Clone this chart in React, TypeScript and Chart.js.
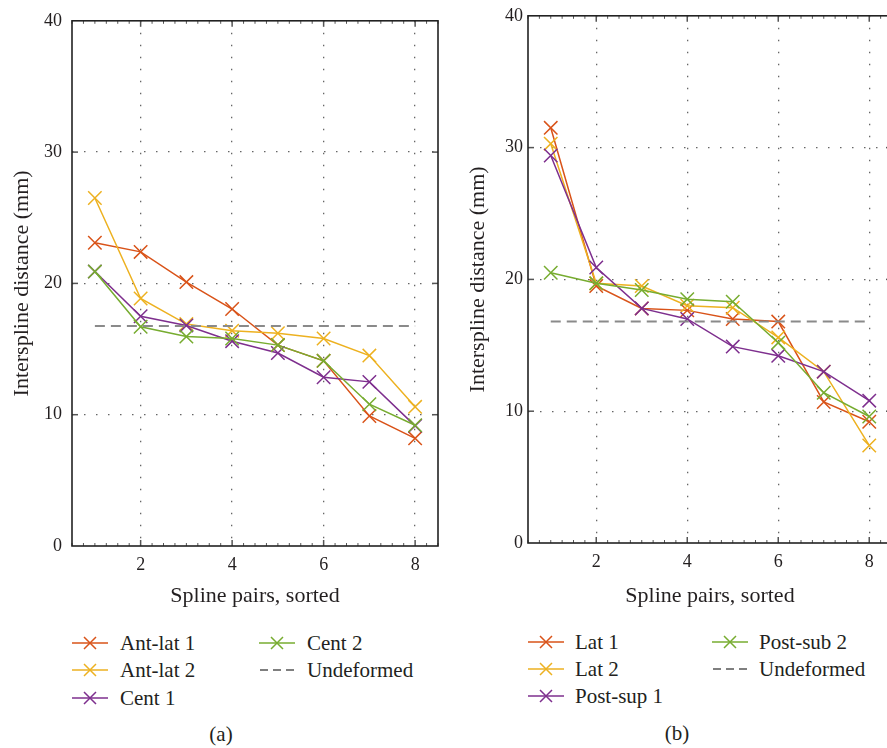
import React, { useEffect, useRef } from "react";
import { Chart, registerables } from "chart.js";

Chart.register(...registerables);

// ---------- data ----------
const PAIRS = [1, 2, 3, 4, 5, 6, 7, 8];
const X_TICKS = [2, 4, 6, 8];
const Y_TICKS = [0, 10, 20, 30, 40];

// panel (a)
const ANT_LAT_1 = [23.1, 22.4, 20.1, 18.05, 15.3, 14.1, 9.9, 8.2];
const ANT_LAT_2 = [26.5, 18.85, 16.9, 16.4, 16.2, 15.8, 14.5, 10.6];
const CENT_1 = [20.9, 17.5, 16.8, 15.6, 14.7, 12.85, 12.5, 9.15];
const CENT_2 = [20.9, 16.7, 15.95, 15.8, 15.3, 14.1, 10.8, 9.2];
const UNDEFORMED_A = 16.75;

// panel (b)
const LAT_1 = [31.5, 19.5, 17.8, 17.65, 17.0, 16.8, 10.7, 9.2];
const LAT_2 = [30.3, 19.7, 19.5, 18.0, 17.85, 15.6, 13.0, 7.4];
const POST_SUP_1 = [29.4, 20.9, 17.8, 17.0, 14.9, 14.2, 13.0, 10.8];
const POST_SUB_2 = [20.5, 19.7, 19.2, 18.5, 18.3, 15.2, 11.4, 9.6];
const UNDEFORMED_B = 16.8;

const X_TITLE = "Spline pairs, sorted";
const Y_TITLE = "Interspline distance (mm)";

const RED = "#D95319";
const YELLOW = "#EDB120";
const PURPLE = "#7E2F8E";
const GREEN = "#77AC30";
const DASH_GRAY = "#8a8a8a";
const TEXT = "#231f20";
const FONT = "'Liberation Serif', 'Times New Roman', serif";

const LEGEND_A = [
  { label: "Ant-lat 1", color: RED },
  { label: "Ant-lat 2", color: YELLOW },
  { label: "Cent 1", color: PURPLE },
  { label: "Cent 2", color: GREEN },
  { label: "Undeformed", color: null },
];
const LEGEND_B = [
  { label: "Lat 1", color: RED },
  { label: "Lat 2", color: YELLOW },
  { label: "Post-sup 1", color: PURPLE },
  { label: "Post-sub 2", color: GREEN },
  { label: "Undeformed", color: null },
];

// ---------- chart helpers ----------
const framePlugin = {
  id: "frame",
  afterDraw(chart: any) {
    const { ctx, chartArea: a } = chart;
    const x = chart.scales.x;
    const y = chart.scales.y;
    const seg = (x1: number, y1: number, x2: number, y2: number) => {
      ctx.beginPath();
      ctx.moveTo(x1, y1);
      ctx.lineTo(x2, y2);
      ctx.stroke();
    };
    ctx.save();
    ctx.strokeStyle = "#555";
    ctx.lineWidth = 1;
    for (let v = x.min; v <= x.max + 1e-9; v += 0.25) {
      const px = x.getPixelForValue(v);
      const major = X_TICKS.some((t) => Math.abs(t - v) < 1e-6);
      const len = major ? 6 : 3;
      ctx.lineWidth = major ? 1.5 : 1;
      seg(px, a.bottom, px, a.bottom - len);
      seg(px, a.top, px, a.top + len);
    }
    ctx.lineWidth = 1.5;
    for (const v of Y_TICKS) {
      if (v === y.min || v === y.max) continue;
      const py = y.getPixelForValue(v);
      seg(a.left, py, a.left + 6, py);
      seg(a.right, py, a.right - 6, py);
    }
    ctx.strokeStyle = "#222";
    ctx.lineWidth = 1.6;
    ctx.strokeRect(a.left, a.top, a.right - a.left, a.bottom - a.top);
    ctx.restore();
  },
};

function series(values: number[], color: string, idx: number) {
  return {
    data: PAIRS.map((p, i) => ({ x: p, y: values[i] })),
    borderColor: color,
    backgroundColor: color,
    borderWidth: 1.5,
    pointStyle: "crossRot",
    pointRadius: 9.5,
    pointBorderWidth: 1.5,
    pointBorderColor: color,
    tension: 0,
    order: 10 - idx,
  };
}

function undeformed(v: number) {
  return {
    data: [
      { x: PAIRS[0], y: v },
      { x: PAIRS[PAIRS.length - 1], y: v },
    ],
    borderColor: DASH_GRAY,
    borderWidth: 2,
    borderDash: [10, 6],
    pointRadius: 0,
    order: 0,
  };
}

type Cfg = {
  top: number;
  right: number;
  yAxisW: number;
  xAxisH: number;
  yTickPad: number;
  yTitlePad: number;
};

function makeOptions(cfg: Cfg) {
  const tickFont = { family: FONT, size: 18 };
  const titleFont = { family: FONT, size: 22 };
  return {
    responsive: false,
    maintainAspectRatio: false,
    animation: false,
    layout: { padding: { left: 0, top: cfg.top, right: cfg.right, bottom: 0 } },
    plugins: { legend: { display: false }, tooltip: { enabled: false } },
    scales: {
      x: {
        type: "linear",
        min: 0.5,
        max: 8.5,
        afterBuildTicks: (s: any) => {
          s.ticks = X_TICKS.map((v) => ({ value: v }));
        },
        afterFit: (s: any) => {
          s.height = cfg.xAxisH;
        },
        grid: { color: "#666", lineWidth: 1.3, drawTicks: false },
        border: { display: false, dash: [1.5, 10.5] },
        ticks: {
          autoSkip: false,
          maxRotation: 0,
          padding: 8,
          color: TEXT,
          font: tickFont,
          callback: (v: any) => String(v),
        },
        title: {
          display: true,
          text: X_TITLE,
          color: TEXT,
          font: titleFont,
          padding: { top: 0, bottom: 11 },
        },
      },
      y: {
        type: "linear",
        min: 0,
        max: 40,
        afterBuildTicks: (s: any) => {
          s.ticks = Y_TICKS.map((v) => ({ value: v }));
        },
        afterFit: (s: any) => {
          s.width = cfg.yAxisW;
        },
        grid: {
          color: (c: any) =>
            c.tick && (c.tick.value === 0 || c.tick.value === 40) ? "rgba(0,0,0,0)" : "#666",
          lineWidth: 1.3,
          drawTicks: false,
        },
        border: { display: false, dash: [1.5, 10.5] },
        ticks: {
          autoSkip: false,
          padding: cfg.yTickPad,
          color: TEXT,
          font: tickFont,
          callback: (v: any) => String(v),
        },
        title: {
          display: true,
          text: Y_TITLE,
          color: TEXT,
          font: titleFont,
          padding: { top: cfg.yTitlePad, bottom: 0 },
        },
      },
    },
  };
}

function Panel({
  width,
  height,
  datasets,
  cfg,
}: {
  width: number;
  height: number;
  datasets: any[];
  cfg: Cfg;
}) {
  const ref = useRef<HTMLCanvasElement | null>(null);
  useEffect(() => {
    if (!ref.current) return;
    const chart = new Chart(ref.current, {
      type: "line",
      data: { datasets },
      options: makeOptions(cfg) as any,
      plugins: [framePlugin],
    } as any);
    return () => chart.destroy();
  }, []);
  return <canvas ref={ref} width={width} height={height} style={{ display: "block", width, height }} />;
}

function Marker({ color }: { color: string | null }) {
  if (!color) {
    return (
      <svg width={36} height={16} style={{ display: "block" }}>
        <line x1={1} y1={8} x2={35} y2={8} stroke="#555" strokeWidth={1.3} strokeDasharray="8 5" />
      </svg>
    );
  }
  return (
    <svg width={36} height={16} style={{ display: "block" }}>
      <line x1={0} y1={8} x2={36} y2={8} stroke={color} strokeWidth={1.5} />
      <path d="M12 2 L24 14 M24 2 L12 14" stroke={color} strokeWidth={1.5} fill="none" />
    </svg>
  );
}

function Legend({
  items,
  col1,
  col2,
  textGap,
  rows,
}: {
  items: { label: string; color: string | null }[];
  col1: number;
  col2: number;
  textGap: number;
  rows: number[];
}) {
  return (
    <>
      {items.map((it, i) => {
        const col = i < 3 ? col1 : col2;
        const rowY = rows[i % 3];
        return (
          <div key={it.label + i}>
            <div style={{ position: "absolute", left: col, top: rowY - 8 }}>
              <Marker color={it.color} />
            </div>
            <div
              style={{
                position: "absolute",
                left: col + textGap,
                top: rowY - 14,
                height: 28,
                lineHeight: "28px",
                fontFamily: FONT,
                fontSize: 21,
                color: TEXT,
                whiteSpace: "nowrap",
              }}
            >
              {it.label}
            </div>
          </div>
        );
      })}
    </>
  );
}

export default function App() {
  const datasetsA = [
    series(ANT_LAT_1, RED, 0),
    series(ANT_LAT_2, YELLOW, 1),
    series(CENT_1, PURPLE, 2),
    series(CENT_2, GREEN, 3),
    undeformed(UNDEFORMED_A),
  ];
  const datasetsB = [
    series(LAT_1, RED, 0),
    series(LAT_2, YELLOW, 1),
    series(POST_SUP_1, PURPLE, 2),
    series(POST_SUB_2, GREEN, 3),
    undeformed(UNDEFORMED_B),
  ];
  return (
    <div
      style={{
        position: "absolute",
        left: 0,
        top: 0,
        width: 887,
        height: 748,
        background: "#fff",
        overflow: "hidden",
      }}
    >
      <div style={{ position: "absolute", left: 0, top: 0 }}>
        <Panel
          width={449}
          height={620}
          datasets={datasetsA}
          cfg={{ top: 17, right: 7, yAxisW: 72, xAxisH: 74, yTickPad: 10, yTitlePad: 9 }}
        />
      </div>
      <div style={{ position: "absolute", left: 445, top: 0, width: 442, height: 620, overflow: "hidden" }}>
        <Panel
          width={458}
          height={620}
          datasets={datasetsB}
          cfg={{ top: 15, right: 7, yAxisW: 83, xAxisH: 77, yTickPad: 5, yTitlePad: 20 }}
        />
      </div>
      <Legend items={LEGEND_A} col1={72} col2={259} textGap={48} rows={[643, 670, 698]} />
      <Legend items={LEGEND_B} col1={528} col2={712} textGap={47} rows={[642, 669, 696]} />
      <div
        style={{
          position: "absolute",
          left: 171,
          width: 100,
          top: 720,
          textAlign: "center",
          fontFamily: FONT,
          fontSize: 21,
          lineHeight: "28px",
          color: TEXT,
        }}
      >
        (a)
      </div>
      <div
        style={{
          position: "absolute",
          left: 627,
          width: 100,
          top: 719,
          textAlign: "center",
          fontFamily: FONT,
          fontSize: 21,
          lineHeight: "28px",
          color: TEXT,
        }}
      >
        (b)
      </div>
    </div>
  );
}
